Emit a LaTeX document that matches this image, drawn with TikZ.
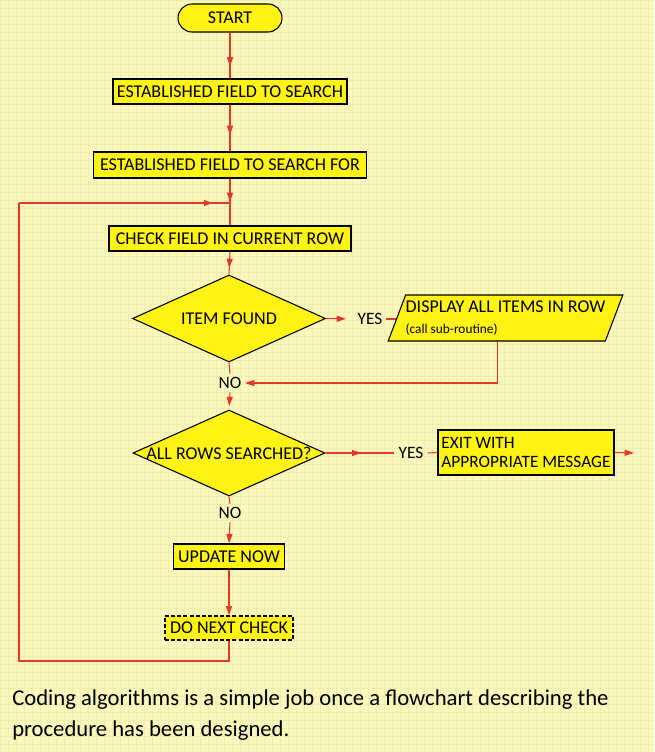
\documentclass[tikz,border=0pt]{standalone}
\usepackage{fontspec}
\setmainfont{Carlito}
\usetikzlibrary{shapes.geometric,arrows.meta,decorations.markings,calc}
\definecolor{pagebg}{RGB}{250,248,188}
\definecolor{gridc}{RGB}{240,238,172}
\definecolor{boxy}{RGB}{255,243,20}
\definecolor{linered}{RGB}{226,58,38}
\begin{document}
\begin{tikzpicture}[x=0.75pt,y=-0.75pt,
  boxfont/.style={font=\fontsize{13.5}{15}\selectfont},
  box/.style={draw=black, line width=0.8pt, fill=boxy, rectangle, inner sep=0pt, boxfont},
  dbox/.style={box, diamond, inner sep=0pt},
  lbl/.style={inner sep=2.5pt, font=\fontsize{13}{15}\selectfont},
  redline/.style={draw=linered, color=linered, line width=0.8pt},
  tipstyle/.style={-{Triangle[length=7pt,width=4.5pt]}},
  midarrow/.style={postaction={decorate}, decoration={markings, mark=at position #1 with {\arrow{Triangle[length=7pt,width=4.5pt]}}}}
]
\useasboundingbox (0,0) rectangle (654,752);
\fill[pagebg] (0,0) rectangle (654,752);
\draw[gridc, line width=0.35pt, step=6pt] (0,0) grid (654,752);

% nodes
\node[box, rounded corners=10.5pt, minimum width=78pt, minimum height=21pt] (start) at (230,18) {START};
\node[box, minimum width=175.5pt, minimum height=18.75pt] (b1) at (230,91.5) {ESTABLISHED FIELD TO SEARCH};
\node[box, minimum width=204.75pt, minimum height=19.5pt] (b2) at (230,165) {ESTABLISHED FIELD TO SEARCH FOR};
\node[box, minimum width=181.5pt, minimum height=18.75pt] (b3) at (230,238.5) {CHECK FIELD IN CURRENT ROW};
\node[dbox, minimum width=144.75pt, minimum height=65.25pt,
      label={[boxfont, inner sep=0pt]center:ITEM FOUND}] (d1) at (229,318.5) {};
\node[lbl] (yes1) at (370,319) {YES};
\node[box, trapezium, trapezium left angle=63.4, trapezium right angle=116.6, trapezium stretches=true,
      minimum width=173.25pt, minimum height=34.5pt, align=left] (par) at (505.5,318)
      {DISPLAY ALL ITEMS IN ROW\\[1pt]{\fontsize{10}{12}\selectfont (call sub-routine)}};
\node[lbl] (no1) at (230,383) {NO};
\node[dbox, minimum width=144pt, minimum height=64.5pt,
      label={[boxfont, inner sep=0pt]center:ALL ROWS SEARCHED?}] (d2) at (229,453) {};
\node[lbl, inner sep=3pt] (yes2) at (411,453) {YES};
\node[box, minimum width=132pt, minimum height=33.75pt, align=left, inner xsep=2.5pt,
      font=\fontsize{13}{14.5}\selectfont] (exit) at (526,452.5) {EXIT WITH\\APPROPRIATE MESSAGE};
\coordinate (exitend) at (634,453);
\node[lbl] (no2) at (230,513) {NO};
\node[box, minimum width=83.25pt, minimum height=18.75pt] (upd) at (229,556.5) {UPDATE NOW};
\node[box, dash pattern=on 3pt off 1.6pt, line width=1pt, minimum width=96pt, minimum height=18pt] (dnc) at (229,628) {DO NEXT CHECK};
\coordinate (lb) at (19,661);
\coordinate (lt) at (19,203);
\coordinate (jn) at (230,203);

% connectors
\draw[redline, midarrow=0.74] (start.south) -- (b1.north);
\draw[redline, midarrow=0.65] (b1.south) -- (b2.north);
\draw[redline, midarrow=0.5] (b2.south) -- (b3.north);
\draw[redline, midarrow=0.72] (b3.south) -- (d1.north);
\draw[redline, tipstyle, shorten >=6pt] (d1.east) -- (yes1.west);
\draw[redline] (yes1.east) -- (yes1.east -| par.west);
\draw[redline, tipstyle] ([xshift=-6pt]par.south) |- (no1.east);
\draw[redline] (d1.south) -- (no1.north);
\draw[redline, tipstyle, shorten >=2.5pt] (no1.south) -- (d2.north);
\draw[redline, midarrow=0.52] (d2.east) -- (yes2.west);
\draw[redline] (yes2.east) -- (exit.west);
\draw[redline, tipstyle] (exit.east) -- (exitend);
\draw[redline] (d2.south) -- (no2.north);
\draw[redline, tipstyle] (no2.south) -- (upd.north);
\draw[redline, tipstyle] (upd.south) -- (dnc.north);
\draw[redline] (dnc.south) |- (lb) -- (lt);
\draw[redline, midarrow=0.92] (lt) -- (jn);

% caption
\node[anchor=base west, inner sep=0pt, font=\fontsize{17}{20}\selectfont] (cap1) at (12,705) {Coding algorithms is a simple job once a flowchart describing the};
\node[anchor=base west, inner sep=0pt, font=\fontsize{17}{20}\selectfont] (cap2) at (12,736) {procedure has been designed.};
\end{tikzpicture}
\end{document}
